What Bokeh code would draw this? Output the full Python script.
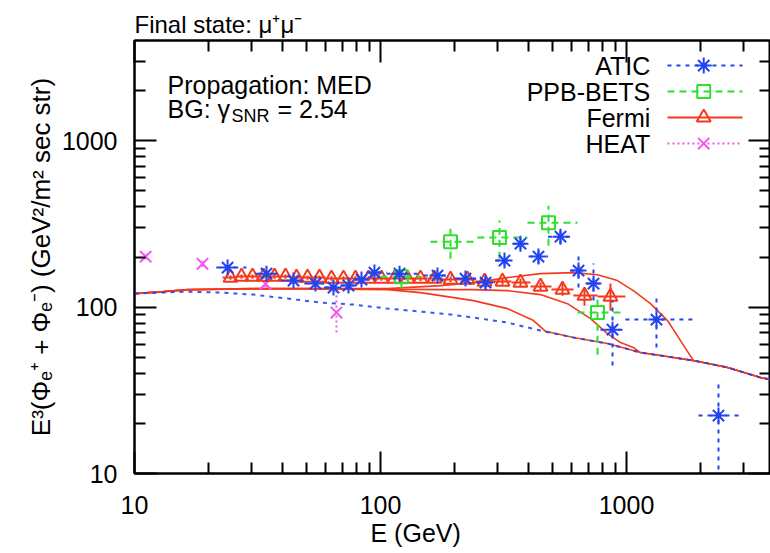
import numpy as np
from bokeh.plotting import figure
from bokeh.models import (Range1d, LinearScale, LogAxis, FixedTicker,
                          PrintfTickFormatter, Label, Title)
from bokeh.embed import file_html
from bokeh.resources import INLINE

FONT = "Liberation Sans"

# ---------------- data ----------------
heat_E = [11.1, 18.9, 34.1, 66.2]
heat_V = [201, 182, 138, 92.7]
heat_lo = [193, 175, 132, 70.3]
heat_hi = [209, 190, 145, 125.6]

atic_E = [23.9, 34.4, 44.3, 54.4, 64.4, 74.1, 83.7, 94.5, 119.5, 170.5, 221.6,
          267.3, 319.2, 370.7, 438.8, 539.1, 638.2, 734.4, 877.5, 1324, 2366]
atic_V = [172.7, 158.9, 144.3, 138.4, 131.0, 134.7, 146.3, 161.2, 158.9, 154.6, 148.3,
          140.3, 190.3, 240.6, 201.1, 265.1, 165.7, 138.4, 73.2, 84.1, 22.3]
atic_lo = [165, 152, 138, 132, 125, 128, 139, 153, 150, 145, 138,
           129, 178, 222, 183, 240, 131, 109.4, 44.6, 57.2, 5]
atic_hi = [181, 166, 151, 145, 137, 141, 154, 170, 168, 165, 159,
           152, 203, 261, 220, 291, 209.5, 182.6, 109.4, 112.5, 36.2]
atic_Elo = [21.5, 31, 39.5, 49, 59, 69, 79, 89, 106, 150, 200,
            245, 292, 345, 400, 480, 590, 690, 784, 990, 1963]
atic_Ehi = [28.5, 38.5, 49, 59, 69, 79, 89, 106, 143, 195, 245,
            292, 345, 400, 480, 590, 690, 784, 990, 1905, 2904]

ppb_E = [121.7, 192.6, 304.6, 481.9, 762.5]
ppb_V = [152.3, 247.2, 261.5, 321.8, 92.7]
ppb_Elo = [100, 159.6, 247.7, 395.9, 632.3]
ppb_Ehi = [145.6, 247.7, 395.9, 632.3, 990]
ppb_lo = [130, 195, 195, 234, 51.8]
ppb_hi = [175, 296, 331, 407, 118.9]

fermi_E = [24.56, 27.23, 30.18, 33.45, 37.08, 41.11, 45.56, 50.51, 56.49, 63.22,
           70.72, 79.13, 89.40, 100.9, 114.0, 128.8, 145.4, 165.8, 192.6, 225.8,
           264.8, 313.3, 370.7, 447.2, 549.3, 674.9, 860.9]
fermi_V = [150.4, 152.5, 152.5, 152.5, 152.5, 152.5, 150.4, 150.4, 150.4, 148.3,
           148.3, 148.3, 148.3, 148.3, 148.3, 148.3, 148.3, 148.3, 146.3, 146.3,
           142.3, 142.3, 140.3, 132.8, 127.4, 117.2, 115.6]
fermi_lo = [146, 148, 148, 148, 148, 148, 146, 146, 146, 144,
            144, 144, 144, 144, 144, 144, 143, 143, 141, 141,
            137, 136, 133, 125, 117, 102, 95.2]
fermi_hi = [155, 157, 157, 157, 157, 157, 155, 155, 155, 153,
            153, 153, 153, 153, 153, 153, 154, 154, 152, 152,
            148, 149, 148, 141, 138, 129, 138.4]
fermi_Elo0 = 22.8
fermi_Ehi_last = 990

bg_E = [10, 16.4, 22.4, 30.4, 41.9, 57.0, 77.6, 106.8, 145.4, 192.6, 238.8,
        328.3, 447, 609, 837, 1140, 1553, 1872, 2574, 3508, 3850]
bg_V = [120.5, 123.9, 122.2, 118.9, 112.5, 106.4, 103.5, 97.9, 94.0, 90.2, 86.5,
        80.7, 72.3, 65.6, 60.4, 53.3, 49.8, 47.7, 43.4, 37.7, 36.7]

redA_E = [10, 13.1, 16.4, 30.4, 57.0, 106.8, 175.4, 238.8, 328.3, 447, 609,
          762.5, 918.6, 1066, 1252, 1468, 1658, 1872]
redA_V = [120.5, 123.9, 127.4, 129.1, 129.1, 129.1, 134.6, 140.3, 150.4, 158.9, 161.2,
          156.6, 144.3, 125.6, 104.9, 83.0, 62.9, 47.7]
redC_E = [10, 13.1, 16.4, 30.4, 57.0, 106.8, 175.4, 238.8, 328.3, 447, 575.6,
          714, 837, 945.4, 1066]
redC_V = [120.5, 123.9, 127.4, 129.1, 129.1, 128.0, 127.4, 127.4, 125.6, 118.9, 104.9,
          85.3, 69.3, 61.2, 57.2]
redB_E = [10, 13.1, 16.4, 30.4, 57.0, 106.8, 145.4, 175.4, 238.8, 328.3, 418.8, 469]
redB_V = [120.5, 123.9, 127.0, 128.5, 128.5, 127.4, 122.2, 117.2, 109.4, 97.9, 83.0, 71.5]

x_major = [10, 100, 1000]
x_minor = [20, 30, 40, 50, 60, 70, 80, 90, 200, 300, 400, 500, 600, 700, 800, 900,
           2000, 3000]
y_major = [10, 100, 1000]
y_minor = [20, 30, 40, 50, 60, 70, 80, 90, 200, 300, 400, 500, 600, 700, 800, 900,
           2000, 3000]

legend_names = ["ATIC", "PPB-BETS", "Fermi", "HEAT"]

# ---------------- colours / styles ----------------
BLUE = "#2244f0"
RED = "#f53a1c"
GREEN = "#2ee02e"
MAGENTA = "#f455f0"

p = figure(width=770, height=553, x_axis_type="log", y_axis_type="log",
           x_range=Range1d(10, 3850), y_range=Range1d(10, 4000),
           output_backend="svg", toolbar_location=None,
           min_border_left=134, min_border_right=0, min_border_top=40,
           min_border_bottom=80)
p.grid.visible = False
p.outline_line_color = "black"
p.outline_line_width = 2
p.background_fill_color = "white"
p.border_fill_color = "white"

p.title.text = "Final state: \u03bc\u207a\u03bc\u207b"
p.title.text_font = FONT
p.title.text_font_size = "24px"
p.title.text_font_style = "normal"
p.title.text_color = "black"
p.title.align = "left"
p.title.standoff = 5


def style_axis(ax, major, minor):
    ax.ticker = FixedTicker(ticks=major, minor_ticks=minor)
    ax.major_tick_in = 22
    ax.major_tick_out = 0
    ax.minor_tick_in = 11
    ax.minor_tick_out = 0
    ax.major_tick_line_width = 2
    ax.minor_tick_line_width = 2
    ax.axis_line_width = 2
    ax.formatter = PrintfTickFormatter(format="%d")
    ax.major_label_text_font = FONT
    ax.major_label_text_font_size = "25px"
    ax.major_label_text_color = "black"


def tick_only_axis(ticks, length, line=True):
    ax = LogAxis(ticker=FixedTicker(ticks=[], minor_ticks=ticks))
    ax.minor_tick_in = length
    ax.minor_tick_out = 0
    ax.minor_tick_line_width = 2
    ax.major_tick_in = 0
    ax.major_tick_out = 0
    ax.major_label_standoff = 0
    ax.axis_label_standoff = 0
    ax.axis_line_width = 2
    if not line:
        ax.axis_line_color = None
    return ax


xax = p.below[0]
yax = p.left[0]
style_axis(xax, x_major, x_minor)
style_axis(yax, y_major, y_minor)
xax.major_label_standoff = 22
yax.major_label_standoff = 17

p.add_layout(tick_only_axis(x_minor, 11), "above")
p.add_layout(tick_only_axis(x_major, 22, line=False), "above")
p.add_layout(tick_only_axis(y_minor, 11), "right")
p.add_layout(tick_only_axis(y_major, 22, line=False), "right")

# axis titles
p.add_layout(Title(text="E (GeV)", align="left", offset=236, standoff=0,
                   text_font=FONT, text_font_size="25px", text_font_style="normal",
                   text_color="black"), "below")
p.add_layout(Title(text="E\u00b3(\u03a6\u2091\u207a + \u03a6\u2091\u207b) (GeV\u00b2/m\u00b2 sec str)",
                   align="center", standoff=6,
                   text_font=FONT, text_font_size="26px", text_font_style="normal",
                   text_color="black"), "left")

# ---------------- model curves ----------------
def with_tail(E, V):
    E = list(E)
    V = list(V)
    for e, v in zip(bg_E, bg_V):
        if e > E[-1]:
            E.append(e)
            V.append(v)
    return E, V


for cE, cV in [(redA_E, redA_V), (redC_E, redC_V), (redB_E, redB_V)]:
    tE, tV = with_tail(cE, cV)
    p.line(tE, tV, line_color=RED, line_width=1.6)
p.line(bg_E, bg_V, line_color=BLUE, line_width=2, line_dash="4 5", line_alpha=0.9)

# ---------------- data sets ----------------
# HEAT
p.segment(x0=heat_E, y0=heat_lo, x1=heat_E, y1=heat_hi, line_color=MAGENTA,
          line_width=2, line_dash="2 3")
p.scatter(heat_E, heat_V, marker="x", size=16, line_color=MAGENTA, line_width=2)

# Fermi
fE = np.array(fermi_E)
mids = np.sqrt(fE[:-1] * fE[1:])
f_lo = np.concatenate([[fermi_Elo0], mids])
f_hi = np.concatenate([mids, [fermi_Ehi_last]])
p.segment(x0=f_lo, y0=fermi_V, x1=f_hi, y1=fermi_V, line_color=RED, line_width=2)
p.segment(x0=fermi_E, y0=fermi_lo, x1=fermi_E, y1=fermi_hi, line_color=RED, line_width=2)
p.scatter(fermi_E, fermi_V, marker="triangle", size=14, line_color=RED,
          fill_color=None, line_width=2)

# PPB-BETS
p.segment(x0=ppb_Elo, y0=ppb_V, x1=ppb_Ehi, y1=ppb_V, line_color=GREEN,
          line_width=2, line_dash="7 5")
p.segment(x0=ppb_E, y0=ppb_lo, x1=ppb_E, y1=ppb_hi, line_color=GREEN,
          line_width=2, line_dash="7 5")
p.scatter(ppb_E, ppb_V, marker="square", size=13, line_color=GREEN,
          fill_color=None, line_width=2)

# ATIC
p.segment(x0=atic_Elo, y0=atic_V, x1=atic_Ehi, y1=atic_V, line_color=BLUE,
          line_width=2, line_dash="4 5")
p.segment(x0=atic_E, y0=atic_lo, x1=atic_E, y1=atic_hi, line_color=BLUE,
          line_width=2, line_dash="4 5")
p.scatter(atic_E, atic_V, marker="asterisk", size=16, line_color=BLUE, line_width=2)

# ---------------- legend and texts (frame-fraction coordinates) ----------------
p.extra_x_ranges = {"fx": Range1d(0, 1)}
p.extra_y_ranges = {"fy": Range1d(0, 1)}
p.extra_x_scales = {"fx": LinearScale()}
p.extra_y_scales = {"fy": LinearScale()}

leg_text_x = 0.811
leg_x0, leg_x1, leg_xm = 0.838, 0.956, 0.895
leg_rows = [0.942, 0.882, 0.822, 0.762]
leg_styles = [
    dict(color=BLUE, dash="4 5", marker="asterisk", size=16),
    dict(color=GREEN, dash="7 5", marker="square", size=13),
    dict(color=RED, dash="solid", marker="triangle", size=14),
    dict(color=MAGENTA, dash="2 3", marker="x", size=16),
]
for name, row, st in zip(legend_names, leg_rows, leg_styles):
    p.segment(x0=[leg_x0], y0=[row], x1=[leg_x1], y1=[row], line_color=st["color"],
              line_width=2, line_dash=st["dash"], x_range_name="fx", y_range_name="fy")
    p.scatter([leg_xm], [row], marker=st["marker"], size=st["size"],
              line_color=st["color"], fill_color=None, line_width=2,
              x_range_name="fx", y_range_name="fy")
    p.add_layout(Label(x=leg_text_x, y=row, x_range_name="fx", y_range_name="fy",
                       text=name, text_font=FONT, text_font_size="25px",
                       text_align="right", text_baseline="middle", text_color="black"))

ann_x = 0.052
p.add_layout(Label(x=ann_x, y=0.898, x_range_name="fx", y_range_name="fy",
                   text="Propagation: MED", text_font=FONT, text_font_size="25px",
                   text_baseline="middle", text_color="black"))
p.add_layout(Label(x=ann_x, y=0.841, x_range_name="fx", y_range_name="fy",
                   text="BG: \u03b3", text_font=FONT, text_font_size="25px",
                   text_baseline="middle", text_color="black"))
p.add_layout(Label(x=ann_x, y=0.841, x_range_name="fx", y_range_name="fy",
                   x_offset=64, y_offset=-7,
                   text="SNR", text_font=FONT, text_font_size="18px",
                   text_baseline="middle", text_color="black"))
p.add_layout(Label(x=ann_x, y=0.841, x_range_name="fx", y_range_name="fy",
                   x_offset=110,
                   text="= 2.54", text_font=FONT, text_font_size="25px",
                   text_baseline="middle", text_color="black"))

open("out.html", "w").write(file_html(p, INLINE))
